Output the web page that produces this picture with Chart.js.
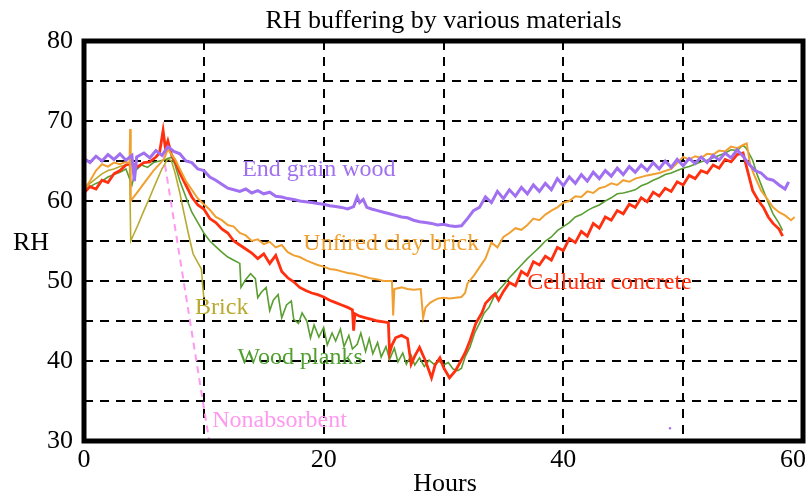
<!DOCTYPE html>
<html>
<head>
<meta charset="utf-8">
<script src="https://cdn.jsdelivr.net/npm/chart.js@4.4.1/dist/chart.umd.min.js"></script>
<style>
html, body { margin: 0; padding: 0; background: #fff; }
</style>
</head>
<body>
<canvas id="rhChart" width="808" height="496"></canvas>
<script>
const chartTitle = 'RH buffering by various materials';

// End grain wood
const endGrainHours = [0,0.5,1,1.5,2,2.5,3,3.5,4,4.2,4.4,5,5.5,6,6.5,7,7.5,8,8.5,9,9.5,10,10.5,11,11.5,12,12.5,13,13.5,14,14.5,15,15.5,16,16.5,17,17.5,18,18.5,19,19.5,20,20.5,21,21.5,22,22.5,22.8,23,23.3,23.6,24,24.5,25,25.5,26,26.5,27,27.5,28,28.5,29,29.5,30,30.5,31,31.5,32,32.5,33,33.5,34,34.5,35,35.5,36,36.5,37,37.5,38,38.5,39,39.5,40,40.5,41,41.5,42,42.5,43,43.5,44,44.5,45,45.5,46,46.5,47,47.5,48,48.5,49,49.5,50,50.5,51,51.5,52,52.5,53,53.5,54,54.5,55,55.5,56,56.5,57,57.5,58,58.5,58.8];
const endGrainRH = [65.3,64.8,65.6,65.0,65.8,65.2,65.9,65.1,65.7,62.5,65.5,66.0,65.4,66.3,65.7,66.8,66.2,65.9,65.0,64.8,64.0,63.8,63.0,62.6,62.1,61.6,61.4,61.2,61.5,61.0,61.3,60.9,61.1,60.6,60.5,60.3,60.2,60.0,59.9,59.8,59.7,59.6,59.4,59.3,59.2,59.0,59.3,60.5,59.8,60.2,59.2,59.0,58.8,58.6,58.4,58.2,58.0,57.9,57.6,57.4,57.3,57.2,57.0,57.1,56.9,56.8,56.9,57.8,58.8,59.2,60.5,59.8,61.2,60.3,61.4,60.6,61.7,60.9,62.0,61.2,62.2,61.4,62.8,61.9,63.0,62.2,63.3,62.5,63.6,62.8,63.8,63.1,64.1,63.3,64.3,63.6,64.5,63.8,64.8,64.0,65.0,64.2,65.2,64.4,65.3,64.7,65.5,64.8,65.7,65.1,66.0,65.4,66.4,65.6,64.6,63.8,63.5,62.8,62.6,62.0,61.5,62.4];

// Unfired clay brick
const clayHours = [0,0.5,1,1.5,2,2.5,3,3.5,3.8,3.85,3.9,4.3,4.8,5.3,5.8,6.3,6.7,7.0,7.3,7.6,8,8.5,9,9.5,10,10.5,11,11.5,12,12.5,13,13.5,14,14.5,15,15.5,16,16.5,17,17.5,18,18.5,19,19.5,20,20.5,21,21.5,22,22.5,23,23.5,24,24.5,25,25.7,25.8,25.9,26.5,27,27.5,28.1,28.3,28.5,28.9,29.5,30,30.5,31,31.5,31.8,32,32.5,33,33.5,34,34.5,35,35.5,36,36.5,37,37.5,38,38.5,39,39.5,40,40.5,41,41.5,42,42.5,43,43.5,44,44.5,45,45.5,46,47,48,49,50,50.5,51,51.5,52,52.5,53,53.5,54,54.5,55,55.3,55.6,56,56.5,57,57.5,58,58.5,59,59.3];
const clayRH = [61.4,62.5,63.8,64.6,64.3,64.8,64.6,64.9,64.7,69.0,60.0,60.8,61.8,62.8,63.8,64.6,65.3,66.5,65.8,65.2,64.0,62.5,61.4,60.3,59.6,58.9,58.0,57.6,57.0,56.8,56.0,55.7,55.0,55.2,54.6,54.9,54.2,54.5,53.6,53.2,53.0,52.6,52.3,52.0,51.8,51.5,51.4,51.2,51.0,50.9,50.7,50.5,50.3,50.2,50.0,50.0,45.7,49.0,49.2,49.0,48.9,49.0,45.4,46.7,47.3,47.8,47.9,47.8,47.9,48.0,48.5,49.7,50.6,51.7,52.8,54.8,54.2,55.5,56.0,56.6,56.4,57.0,57.8,57.6,58.3,58.8,59.2,59.8,60.0,60.6,60.5,61.2,61.0,61.6,61.8,62.2,62.0,62.6,62.4,62.8,63.2,63.5,64.0,65.5,65.2,65.6,65.4,65.9,65.8,66.3,66.2,66.8,66.6,67.0,67.2,64.5,63.0,61.3,60.3,59.2,58.6,58.2,57.6,58.0];

// Cellular concrete
const concreteHours = [0,0.5,1,1.5,2,2.5,3,3.5,4,4.5,5,5.5,6,6.3,6.6,6.8,7,7.3,7.6,8,8.5,9,9.5,10,10.5,11,11.5,12,12.5,13,13.5,14,14.5,15,15.5,16,16.5,17,17.5,18,18.5,19,19.5,20,20.5,21,21.5,22,22.4,22.5,22.6,23,23.5,24,24.5,25,25.4,25.5,25.7,26,26.5,27,27.3,27.6,28,28.5,29,29.3,29.7,30,30.5,31,31.3,31.8,32.2,32.7,33.2,33.5,34,34.3,34.6,35,35.5,36,36.5,37,37.5,38,38.5,39,39.5,40,40.5,41,41.5,42,42.5,43,43.5,44,44.5,45,45.5,46,46.5,47,47.5,48,48.5,49,49.5,50,50.5,51,51.5,52,52.5,53,53.5,54,54.5,55,55.3,55.8,56.3,56.7,57.1,57.5,58,58.3];
const concreteRH = [61.0,61.8,61.5,62.6,62.3,63.4,63.8,64.5,64.7,64.3,64.8,64.9,65.5,66.0,68.8,66.5,67.5,65.8,65.0,63.5,62.0,60.5,59.5,59.0,57.8,57.3,56.5,56.0,55.0,54.5,54.0,53.5,52.8,53.4,52.2,53.2,51.2,50.4,49.9,49.2,48.8,48.5,48.3,48.0,47.6,47.3,47.0,46.7,46.4,43.8,45.9,45.6,45.4,45.2,45.0,44.9,44.8,41.0,42.0,42.9,43.2,42.8,39.6,40.6,41.7,40.0,37.9,39.5,40.4,39.2,37.9,38.8,39.6,41.0,42.5,44.7,46.0,47.2,48.0,48.4,47.6,48.7,49.8,49.4,51.2,50.7,52.4,52.0,53.1,52.6,54.2,53.8,55.3,54.8,56.2,55.6,57.2,56.6,58.0,57.6,58.8,58.4,59.6,59.2,60.4,59.9,61.1,60.6,61.6,61.2,62.4,62.0,63.2,62.8,63.8,63.5,64.5,64.1,65.2,64.9,65.8,66.0,64.2,61.3,60.0,59.2,58.0,57.2,56.5,55.6];

// Wood planks
const plankHours = [0,0.5,1,1.5,2,2.5,3,3.5,4,4.3,4.8,5.3,5.8,6.3,6.8,7.3,7.6,8,8.5,9,9.5,10,10.5,11,11.5,12,12.5,13,13.1,13.5,13.9,14.3,14.5,14.8,15.2,15.5,15.8,16.2,16.5,16.9,17.3,17.5,17.9,18.2,18.6,18.9,19.2,19.6,20,20.3,20.7,21,21.4,21.7,22.1,22.4,22.8,23.1,23.5,23.8,24.1,24.5,24.8,25.2,25.5,25.9,26.2,26.6,26.9,27.3,27.6,28,28.4,28.8,29.2,29.6,30,30.4,30.8,31.2,31.5,31.8,32.2,32.6,33,33.4,33.8,34.2,34.6,35,35.5,36,36.5,37,37.5,38,38.5,39,39.5,40,40.5,41,41.5,42,42.5,43,43.5,44,44.5,45,45.5,46,46.5,47,47.5,48,48.5,49,49.5,50,50.5,51,51.5,52,52.5,53,53.5,54,54.5,55,55.3,55.8,56.2,56.7,57.1,57.5,58,58.3];
const plankRH = [61.2,61.8,62.2,62.5,63.0,63.3,63.6,64.0,62.0,63.8,64.5,64.2,64.8,65.0,65.2,65.5,64.5,62.5,60.5,58.6,57.3,56.0,55.0,54.3,53.6,53.0,52.6,52.2,49.2,50.2,50.9,50.3,47.9,48.6,49.2,46.3,47.6,48.3,45.4,47.0,47.5,45.2,44.7,46.0,45.0,42.9,44.5,43.0,44.2,42.0,43.5,42.5,44.0,41.8,43.2,41.5,42.1,43.5,41.2,42.8,40.9,42.3,40.5,41.8,40.2,41.6,39.9,41.0,39.6,40.7,39.5,40.4,39.3,40.1,39.6,40.0,39.5,39.8,39.0,38.8,39.1,40.5,41.7,43.5,44.7,46.0,46.7,48.0,48.8,49.5,50.4,51.2,52.0,52.8,53.5,54.2,55.0,55.5,56.3,56.8,57.3,58.0,58.3,58.8,59.2,59.5,60.0,60.4,60.9,61.0,61.2,61.4,61.9,62.2,62.6,62.9,63.3,63.5,63.8,64.1,64.3,64.6,64.9,65.1,65.4,65.7,66.0,66.4,66.3,67.0,66.5,65.1,63.2,61.3,59.8,58.4,57.2,56.3];

// Brick
const brickHours = [0,0.5,1,1.5,2,2.5,3,3.5,3.8,3.9,4.5,5,5.5,6,6.5,7,7.3,7.6,8,8.3,8.7,9.1,9.5,9.8,9.9,10.0];
const brickRH = [61.5,62.2,62.8,63.4,63.8,64.0,64.3,64.5,64.6,55.0,57.0,58.8,60.5,62.3,64.0,65.3,65.0,63.5,61.0,58.8,56.0,53.4,52.3,51.5,49.5,47.9];

// Nonabsorbent
const noneHours = [6.6, 10.45];
const noneRH = [66.0, 30.0];

// stray sample near the bottom
const strayHours = [48.9];
const strayRH = [31.6];

const serif = "'Liberation Serif', 'DejaVu Serif', serif";
const pts = (hs, vs) => hs.map((h, i) => ({ x: h, y: vs[i] }));

// curve labels, placed in data units
const notes = [
    { text: 'End grain wood', h: 13.2, rh: 63.9, color: '#a070f0' },
    { text: 'Unfired clay brick', h: 18.3, rh: 54.6, color: '#f0a030' },
    { text: 'Brick', h: 9.27, rh: 46.6, color: '#b8aa30' },
    { text: 'Wood planks', h: 12.8, rh: 40.4, color: '#50a030' },
    { text: 'Cellular concrete', h: 36.98, rh: 49.75, color: '#ff3010' },
    { text: 'Nonabsorbent', h: 10.7, rh: 32.5, color: '#ff99f0' }
];

const decor = {
    id: 'decor',
    beforeDraw(chart) {
        // last x label sits inside the right edge, like the original
        const items = chart.scales.x.getLabelItems();
        const last = items[items.length - 1];
        if (last && String(last.label) === '60') {
            last.options.textAlign = 'right';
            last.options.translation[0] = 806;
        }
    },
    afterDatasetsDraw(chart) {
        const { ctx, chartArea: a, scales: { x, y } } = chart;
        ctx.save();
        ctx.font = '24px ' + serif;
        ctx.textBaseline = 'middle';
        ctx.textAlign = 'left';
        notes.forEach(n => {
            ctx.fillStyle = n.color;
            ctx.fillText(n.text, x.getPixelForValue(n.h), y.getPixelForValue(n.rh));
        });
        ctx.strokeStyle = '#000';
        ctx.lineWidth = 5;
        ctx.strokeRect(a.left, a.top, a.right - a.left, a.bottom - a.top);
        ctx.fillStyle = '#000';
        ctx.font = '26px ' + serif;
        ctx.textBaseline = 'alphabetic';
        ctx.textAlign = 'center';
        ctx.fillText(chartTitle, (a.left + a.right) / 2, 28);
        ctx.fillText('Hours', 445, 491);
        ctx.textAlign = 'left';
        ctx.fillText('RH', 13, 250);
        ctx.restore();
    }
};

const line = (hs, vs, color, width, extra) => Object.assign({
    data: pts(hs, vs),
    showLine: true,
    borderColor: color,
    backgroundColor: color,
    borderWidth: width,
    pointRadius: 0,
    tension: 0
}, extra || {});

const ctx = document.getElementById('rhChart').getContext('2d');
const rhChart = new Chart(ctx, {
    type: 'scatter',
    data: {
        datasets: [
            line(endGrainHours, endGrainRH, '#a070f0', 3),
            line(clayHours, clayRH, '#f0a030', 2),
            line(concreteHours, concreteRH, '#ff3010', 2.8),
            line(plankHours, plankRH, '#5a9e32', 1.6),
            line(brickHours, brickRH, '#b8aa30', 1.6),
            line(noneHours, noneRH, '#ff99f0', 2, { borderDash: [7, 5] }),
            line(strayHours, strayRH, '#a070f0', 0, { showLine: false, pointRadius: 1.2 })
        ]
    },
    options: {
        responsive: false,
        animation: false,
        devicePixelRatio: 1,
        layout: { padding: { left: 0, top: 41, right: 5, bottom: 0 } },
        plugins: { legend: { display: false }, tooltip: { enabled: false } },
        scales: {
            x: {
                type: 'linear',
                min: 0,
                max: 60,
                afterFit: s => { s.height = 55; s.paddingLeft = 0; s.paddingRight = 0; },
                ticks: {
                    stepSize: 10,
                    autoSkip: false,
                    maxRotation: 0,
                    padding: 4,
                    color: '#000',
                    font: { family: serif, size: 26 },
                    callback: v => (v % 20 === 0 ? v : '')
                },
                grid: { color: '#000', lineWidth: 2, drawTicks: false },
                border: { display: false, dash: [9, 7] }
            },
            y: {
                min: 30,
                max: 80,
                afterFit: s => { s.width = 84; },
                ticks: {
                    stepSize: 5,
                    autoSkip: false,
                    padding: 11,
                    color: '#000',
                    font: { family: serif, size: 26 },
                    callback: v => (v % 10 === 0 ? v : '')
                },
                grid: { color: '#000', lineWidth: 2, drawTicks: false },
                border: { display: false, dash: [9, 7] }
            }
        }
    },
    plugins: [decor]
});
</script>
</body>
</html>
